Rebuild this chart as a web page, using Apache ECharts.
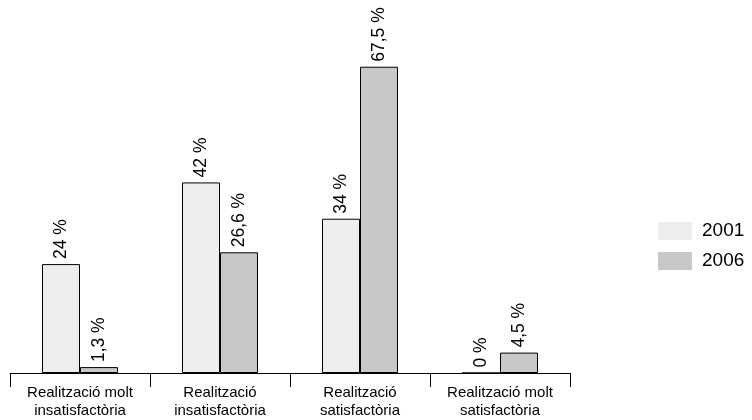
<!DOCTYPE html>
<html><head><meta charset="utf-8">
<script src="https://cdn.jsdelivr.net/npm/echarts@6/dist/echarts.min.js"></script>
<style>html,body{margin:0;padding:0;background:#fff}#c{width:752px;height:420px}</style>
</head><body><div id="c"></div>
<script>
const categories = ['Realització molt\ninsatisfactòria', 'Realització\ninsatisfactòria', 'Realització\nsatisfactòria', 'Realització molt\nsatisfactòria'];
const values2001 = [24, 42, 34, 0];
const values2006 = [1.3, 26.6, 67.5, 4.5];
const seriesNames = ['2001', '2006'];
const fmt = p => String(p.value).replace('.', ',') + ' %';
const FONT = 'Liberation Sans';
const lbl = {show: true, position: 'top', rotate: 90, align: 'left', verticalAlign: 'middle', distance: 5, formatter: fmt, color: '#000', fontSize: 17.5, fontFamily: FONT};
const chart = echarts.init(document.getElementById('c'));
chart.setOption({
  animation: false,
  grid: {left: 10, right: 182, top: 10, bottom: 46},
  legend: {orient: 'vertical', left: 658, top: 221, itemWidth: 34, itemHeight: 18, itemGap: 10, padding: 0,
    textStyle: {fontSize: 19, fontFamily: FONT, color: '#000', lineHeight: 20, padding: [0, 0, 0, 5]}, icon: 'rect',
    itemStyle: {borderWidth: 0}, data: seriesNames},
  xAxis: {type: 'category', data: categories,
    axisLine: {lineStyle: {color: '#000', width: 1}},
    axisTick: {show: true, length: 14, lineStyle: {color: '#000'}},
    axisLabel: {color: '#000', fontSize: 15, fontFamily: FONT, margin: 11, lineHeight: 18, interval: 0}},
  yAxis: {type: 'value', min: 0, max: 80, show: false, splitLine: {show: false}},
  series: [
    {name: seriesNames[0], type: 'bar', data: values2001, barGap: '0%', barCategoryGap: '45.7%',
      itemStyle: {color: '#eeeeee', borderColor: '#000', borderWidth: 1}, label: lbl},
    {name: seriesNames[1], type: 'bar', data: values2006, barGap: '0%', barCategoryGap: '45.7%',
      itemStyle: {color: '#c8c8c8', borderColor: '#000', borderWidth: 1}, label: lbl}
  ]
});
</script></body></html>
